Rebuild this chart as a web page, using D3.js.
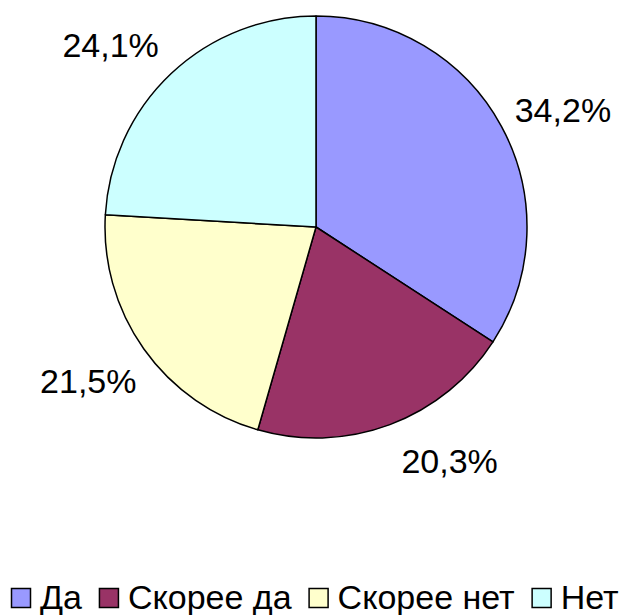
<!DOCTYPE html>
<html>
<head>
<meta charset="utf-8">
<script src="https://cdn.jsdelivr.net/npm/d3@7"></script>
<style>
  body { margin: 0; background: #fff; }
</style>
</head>
<body>
<div id="chart"></div>
<script>
const categories = ["Да", "Скорее да", "Скорее нет", "Нет"];
const values = [34.2, 20.3, 21.5, 24.1];
const labels = ["34,2%", "20,3%", "21,5%", "24,1%"];
const colors = ["#9999ff", "#993366", "#ffffcc", "#ccffff"];

const width = 628, height = 615;
const cx = 316, cy = 227, radius = 211;
// label nudges (px) away from the centroid position, like Excel's placement
const labelNudge = [[7, 13], [38, -22], [-5, -4], [-18, 16]];

const svg = d3.select("#chart").append("svg")
    .attr("width", width)
    .attr("height", height)
    .style("font-family", "Liberation Sans, Arial, sans-serif");

const data = categories.map((c, i) => ({cat: c, value: values[i], label: labels[i], color: colors[i], i}));

const pie = d3.pie().value(d => d.value).sort(null);
const arc = d3.arc().innerRadius(0).outerRadius(radius);
const labelArc = d3.arc().innerRadius(273).outerRadius(273);

const g = svg.append("g").attr("transform", `translate(${cx},${cy})`);

g.selectAll("path")
  .data(pie(data))
  .join("path")
    .attr("d", arc)
    .attr("fill", d => d.data.color)
    .attr("stroke", "#000")
    .attr("stroke-width", 1.5)
    .attr("stroke-linejoin", "round");

g.selectAll("text")
  .data(pie(data))
  .join("text")
    .attr("transform", d => {
      const [x, y] = labelArc.centroid(d);
      const [nx, ny] = labelNudge[d.data.i];
      return `translate(${x + nx},${y + ny})`;
    })
    .attr("text-anchor", "middle")
    .attr("dy", "0.36em")
    .attr("font-size", 34)
    .text(d => d.data.label);

// legend
const legend = svg.append("g").attr("transform", "translate(11,598)");
let x = 0;
data.forEach(d => {
  const item = legend.append("g").attr("transform", `translate(${x},0)`);
  item.append("rect")
    .attr("x", 0.5).attr("y", -9.5)
    .attr("width", 19).attr("height", 19)
    .attr("fill", d.color)
    .attr("stroke", "#000")
    .attr("stroke-width", 1.5);
  const t = item.append("text")
    .attr("x", 29)
    .attr("y", 11)
    .attr("font-size", 34)
    .text(d.cat);
  x += 29 + t.node().getComputedTextLength() + 17;
});
</script>
</body>
</html>
